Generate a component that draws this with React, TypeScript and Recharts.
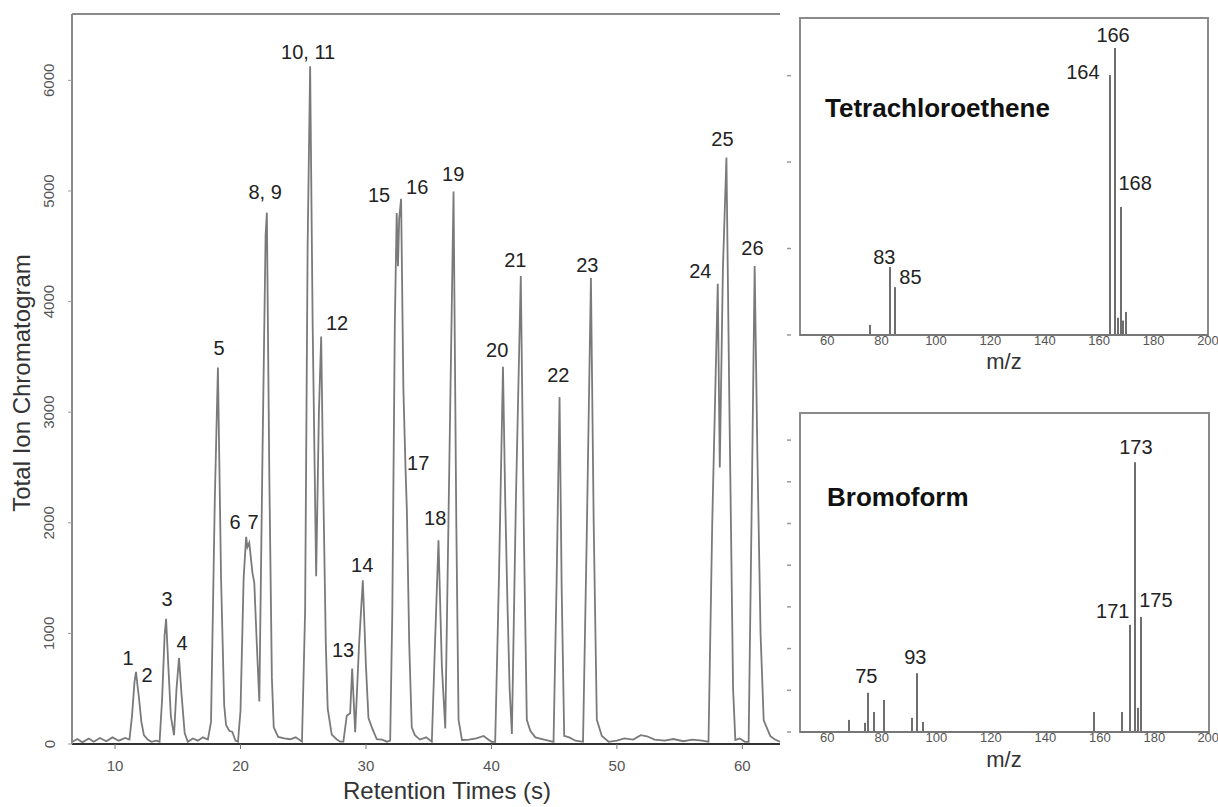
import React from 'react';
import { ComposedChart, Line, Scatter, Bar, XAxis, YAxis, ReferenceLine, ReferenceArea } from 'recharts';

const FONT = '"Liberation Sans", Arial, sans-serif';

// total ion chromatogram
const traceTime = [
  6.6, 7.0, 7.4, 7.9, 8.3, 8.8, 9.3, 9.8, 10.3, 10.8, 11.15,
  11.35, 11.55, 11.67, 11.8, 11.9, 12.1, 12.3, 12.6, 12.9, 13.3, 13.55,
  13.75, 13.95, 14.07, 14.25, 14.45, 14.7, 14.9, 15.1, 15.3, 15.55, 15.8,
  16.2, 16.6, 17.0, 17.4,
  17.65, 17.95, 18.2, 18.45, 18.7, 18.85, 19.1, 19.35, 19.6, 19.8,
  20.0, 20.25, 20.45, 20.55, 20.7, 20.95, 21.1, 21.3, 21.5,
  21.75, 22.0, 22.1, 22.3, 22.5, 22.65, 23.0, 23.5, 23.95, 24.4, 24.9,
  25.15, 25.35, 25.55, 25.75, 26.03, 26.25, 26.43, 26.6, 26.8, 26.95, 27.27, 27.66, 27.94,
  28.2, 28.47, 28.74, 28.9, 29.14, 29.45, 29.75, 30.0, 30.2, 30.47, 30.86, 31.3, 31.66, 31.93,
  32.1, 32.3, 32.45, 32.55, 32.65, 32.8, 32.98, 33.15, 33.26, 33.45, 33.65, 33.9, 34.3, 34.8, 35.25,
  35.5, 35.78, 36.05, 36.32,
  36.6, 36.98, 37.2, 37.38, 37.65, 38.2, 38.8, 39.37, 40.0,
  40.3, 40.6, 40.92, 41.1, 41.28, 41.45, 41.63,
  41.95, 42.34, 42.6, 42.82, 43.1, 43.5, 44.2, 44.95,
  45.2, 45.43, 45.6, 45.8, 46.2, 46.7, 47.3,
  47.6, 47.93, 48.15, 48.4, 48.8, 49.34,
  50.0, 50.6, 51.3, 51.9, 52.4, 53.0, 53.8, 54.5, 55.3, 56.0, 56.8, 57.3,
  57.6, 58.04, 58.2, 58.45, 58.73, 58.95, 59.26, 59.44, 59.8, 60.2,
  60.5, 60.75, 60.98, 61.2, 61.45, 61.7, 62.23, 62.6, 63.0,
];
const traceSignal = [
  20, 45, 15, 50, 20, 55, 25, 60, 30, 55, 40,
  250, 560, 652, 520, 425, 200, 80, 40, 20, 30, 20,
  400, 980, 1131, 700, 250, 80, 500, 778, 450, 100, 20,
  50, 30, 60, 40,
  200, 2200, 3403, 1500, 350, 172, 120, 110, 30, 20,
  300, 1500, 1873, 1780, 1819, 1550, 1457, 900, 384,
  2600, 4600, 4804, 2400, 600, 150, 64, 50, 43, 60, 21,
  1200, 4500, 6127, 3800, 1516, 3000, 3685, 2300, 900, 320, 85, 43, 21,
  21, 256, 277, 683, 107, 900, 1480, 700, 235, 150, 43, 40, 21, 30,
  1200, 3800, 4800, 4320, 4750, 4930, 3224, 2500, 2114, 900, 150, 80, 40, 60, 20,
  900, 1842, 700, 140,
  2200, 4996, 2000, 219, 36, 40, 50, 73, 20,
  20, 1500, 3410, 2200, 1258, 500, 91,
  2200, 4231, 1800, 219, 120, 60, 40, 20,
  1500, 3136, 1400, 73, 60, 30, 20,
  1900, 4212, 2000, 219, 73, 20,
  30, 50, 40, 80, 70, 40, 30, 45, 25, 40, 30, 20,
  2000, 4160, 2500, 4300, 5303, 3200, 500, 36, 50, 20,
  20, 2200, 4321, 2600, 1000, 214, 71, 40, 20,
];

const peakNames = ['1', '2', '3', '4', '5', '6', '7', '8, 9', '10, 11', '12', '13', '14', '15', '16', '17', '18', '19', '20', '21', '22', '23', '24', '25', '26'];
const peakNameTime = [11.04, 12.55, 14.15, 15.34, 18.29, 19.57, 21.0, 21.96, 25.39, 27.7, 28.18, 29.7, 31.05, 34.08, 34.16, 35.52, 36.95, 40.46, 41.9, 45.33, 47.64, 56.65, 58.41, 60.8];
const peakNameSignal = [778, 624, 1312, 914, 3584, 2009, 2009, 4987, 6254, 3810, 851, 1620, 4968, 5032, 2543, 2045, 5149, 3566, 4380, 3339, 4335, 4272, 5466, 4480];

const timeTicks = [10, 20, 30, 40, 50, 60];
const ticTicks = [0, 1000, 2000, 3000, 4000, 5000, 6000];

// tetrachloroethene mass spectrum
const tceMz = [76, 83, 85, 164, 166, 167, 168, 169, 170];
const tceAbundance = [3.5, 23.6, 16.6, 90.2, 99.6, 6, 44.4, 5, 8];
const tceNames = ['166', '164', '168', '83', '85'];
const tceNameMz = [165.1, 154.0, 173.2, 81.0, 90.6];
const tceNameAbundance = [104.1, 91.3, 52.7, 27.1, 20.1];

// bromoform mass spectrum
const bromMz = [68, 74, 75, 77, 81, 91, 93, 95, 158, 168, 171, 173, 174, 175];
const bromAbundance = [2.9, 2.2, 9.4, 4.8, 7.7, 3.4, 14.1, 2.4, 4.8, 4.8, 25.7, 64.7, 5.8, 27.6];
const bromNames = ['173', '171', '175', '93', '75'];
const bromNameMz = [173.2, 164.7, 180.5, 92.3, 74.3];
const bromNameAbundance = [68.3, 29.0, 31.7, 18.0, 13.4];

const mzTicks = [60, 80, 100, 120, 140, 160, 180, 200];

const traceData = traceTime.map((t, i) => ({ t, v: traceSignal[i] }));
const peakData = peakNames.map((name, i) => ({ t: peakNameTime[i], v: peakNameSignal[i], name }));
const tceData = tceMz.map((mz, i) => ({ mz, ab: tceAbundance[i] }));
const tceLabels = tceNames.map((name, i) => ({ mz: tceNameMz[i], ab: tceNameAbundance[i], name }));
const bromData = bromMz.map((mz, i) => ({ mz, ab: bromAbundance[i] }));
const bromLabels = bromNames.map((name, i) => ({ mz: bromNameMz[i], ab: bromNameAbundance[i], name }));

const NameShape = (props: any) => (
  <text x={props.cx} y={props.cy} textAnchor="middle" dominantBaseline="central" fontSize={20} fill="#222" fontFamily={FONT}>
    {props.payload.name}
  </text>
);

// spectrum line: a 2px stick snapped to whole pixels
const StickShape = (props: any) => {
  const cx = Math.round(props.x + props.width / 2);
  return <rect x={cx - 1} y={props.y} width={2} height={props.height} fill="#6e6e6e" />;
};

const RotTick = ({ x, y, payload }: any) => (
  <text x={x - 7} y={y} transform={`rotate(-90 ${x - 7} ${y})`} textAnchor="middle" dominantBaseline="central" fontSize={15} fill="#555" fontFamily={FONT}>
    {payload.value}
  </text>
);

const StubTick = ({ x, y }: any) => (
  <line x1={x - 13} x2={x - 9} y1={y} y2={y} stroke="#999" strokeWidth={1.5} />
);

const Title = ({ x, y, text, size = 24, rotate = 0, bold = false, left = false }: any) => (
  <div
    style={{
      position: 'absolute', left: x, top: y, whiteSpace: 'nowrap', lineHeight: 1,
      fontSize: size, fontWeight: bold ? 700 : 400, color: bold ? '#111' : '#333', fontFamily: FONT,
      transform: `${left ? 'translate(0,-50%)' : 'translate(-50%,-50%)'} rotate(${rotate}deg)`,
    }}
  >
    {text}
  </div>
);

function Spectrum({ data, labels, top, height, marginBottom, marginRight, yMax, yTicks }: any) {
  return (
    <div style={{ position: 'absolute', left: 780, top }}>
      <ComposedChart width={438} height={height} data={data} margin={{ top: 18, right: marginRight, left: 0, bottom: marginBottom }}>
        <XAxis dataKey="mz" type="number" domain={[50, 200]} ticks={mzTicks} allowDataOverflow height={36}
          axisLine={{ stroke: '#777', strokeWidth: 2 }} tickLine={false} tickSize={0} tickMargin={1}
          tick={{ fontSize: 13, fill: '#555', fontFamily: FONT }} />
        <YAxis type="number" domain={[0, yMax]} ticks={yTicks} allowDataOverflow width={20}
          axisLine={false} tickLine={false} tickSize={0} tickMargin={0} tick={<StubTick />} />
        <ReferenceArea x1={50} x2={200} y1={0} y2={yMax} fill="none" stroke="#8a8a8a" strokeWidth={2} />
        <Bar dataKey="ab" barSize={2} shape={StickShape} isAnimationActive={false} />
        <Scatter data={labels} dataKey="ab" shape={NameShape} isAnimationActive={false} />
      </ComposedChart>
    </div>
  );
}

export default function App() {
  return (
    <div style={{ position: 'absolute', left: 0, top: 0, width: 1218, height: 807, background: '#fff', overflow: 'hidden' }}>
      <div style={{ position: 'absolute', left: 0, top: 0 }}>
        <ComposedChart width={790} height={807} data={traceData} margin={{ top: 14, right: 10, left: 22, bottom: 23 }}>
          <XAxis dataKey="t" type="number" domain={[6.57, 63.0]} ticks={timeTicks} allowDataOverflow height={40}
            axisLine={{ stroke: '#333', strokeWidth: 2 }} tickLine={{ stroke: '#777' }} tickSize={5} tickMargin={11}
            tick={{ fontSize: 15, fill: '#555', fontFamily: FONT }} />
          <YAxis type="number" domain={[0, 6600]} ticks={ticTicks} allowDataOverflow width={50}
            axisLine={{ stroke: '#8a8a8a', strokeWidth: 2 }} tickLine={{ stroke: '#999' }} tickSize={4} tickMargin={12}
            tick={<RotTick />} />
          <ReferenceLine y={6600} stroke="#8a8a8a" strokeWidth={2} />
          <Line dataKey="v" type="linear" stroke="#7a7a7a" strokeWidth={1.8} dot={false} isAnimationActive={false} />
          <Scatter data={peakData} dataKey="v" shape={NameShape} isAnimationActive={false} />
        </ComposedChart>
      </div>

      <Spectrum data={tceData} labels={tceLabels} top={0} height={380} marginBottom={9} marginRight={10} yMax={110} yTicks={[0, 30, 60, 90]} />
      <Spectrum data={bromData} labels={bromLabels} top={395} height={412} marginBottom={39} marginRight={9} yMax={76.5} yTicks={[0, 10, 20, 30, 40, 50, 60, 70]} />

      <Title x={22} y={383} text="Total Ion Chromatogram" rotate={-90} />
      <Title x={447} y={791} text="Retention Times (s)" />
      <Title x={1004} y={362} text="m/z" size={22} />
      <Title x={1004} y={760} text="m/z" size={22} />
      <Title x={825} y={108} text="Tetrachloroethene" size={26} bold left />
      <Title x={827} y={497} text="Bromoform" size={26} bold left />
    </div>
  );
}
